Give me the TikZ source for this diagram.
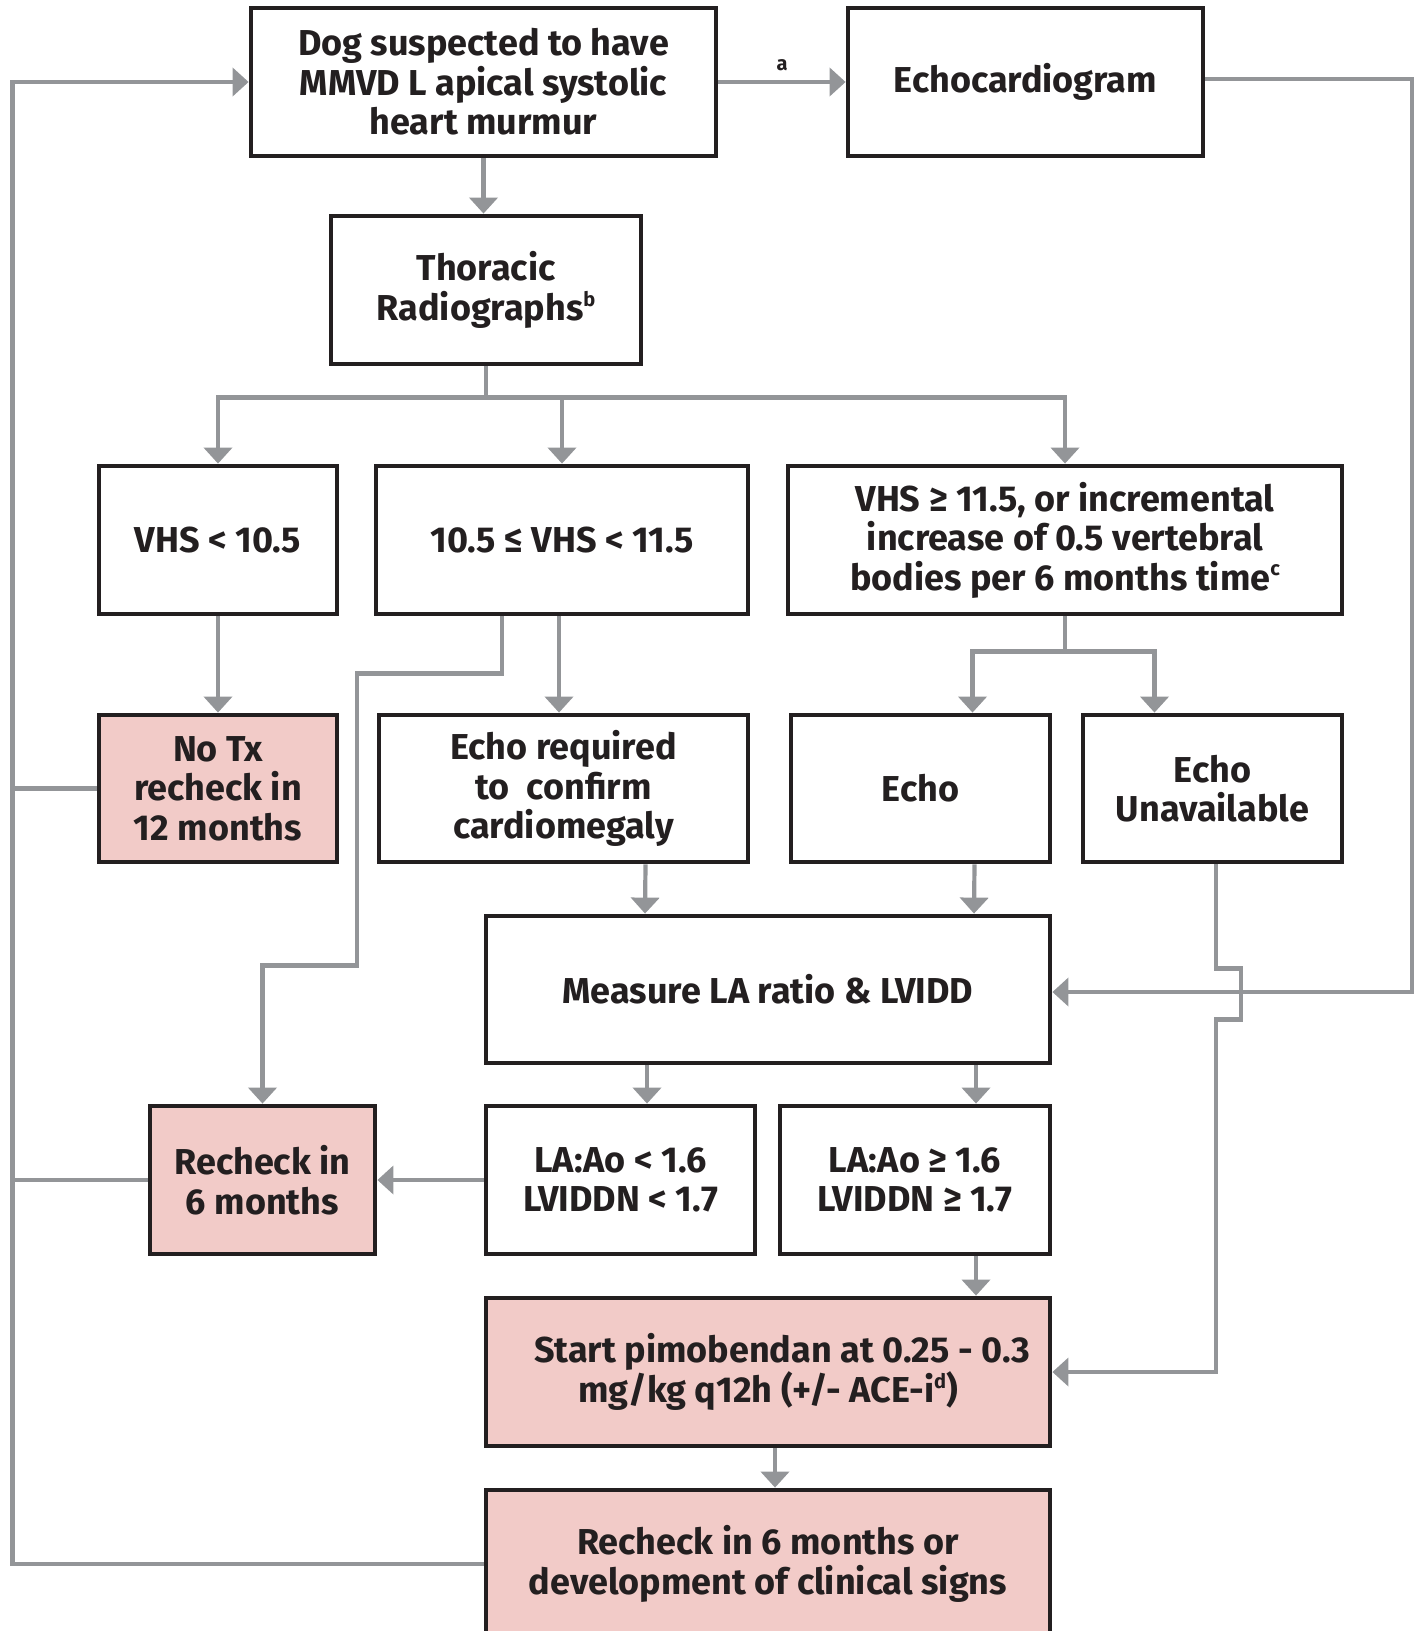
\documentclass[tikz,border=0pt]{standalone}
\usepackage{fontspec}
\setmainfont{Fira Sans}
\usetikzlibrary{arrows.meta,calc}
\definecolor{boxline}{HTML}{231F20}
\definecolor{arrgray}{HTML}{939598}
\definecolor{pinkfill}{HTML}{F2CBC8}
\newcommand{\supnote}[1]{\raisebox{0.75ex}{\fontsize{10pt}{10pt}\selectfont #1}}
\begin{document}
\begin{tikzpicture}[x=0.5pt,y=-0.5pt, line join=miter,
	font=\fontsize{18pt}{19.8pt}\selectfont\bfseries,
	box/.style={draw=boxline, line width=2.4pt, fill=white, align=center, inner sep=0pt, text=boxline},
	pinkbox/.style={box, fill=pinkfill},
	line/.style={draw=arrgray, line width=2.1pt},
	arr/.style={line, -{Triangle[width=14pt,length=8pt]}}]
	\useasboundingbox (0,0) rectangle (1420,1631);
	% boxes
	\node[box, minimum width=232.5pt, minimum height=74pt] (dog) at (483.5,82) {Dog suspected to have\\MMVD L apical systolic\\heart murmur};
	\node[box, minimum width=177.5pt, minimum height=74pt] (echocard) at (1025.5,82) {Echocardiogram};
	\node[box, minimum width=155pt, minimum height=74pt] (thor) at (486,290) {Thoracic\\Radiographs\supnote{b}};
	\node[box, minimum width=119pt, minimum height=74pt] (vhsa) at (218,540) {VHS < 10.5};
	\node[box, minimum width=186pt, minimum height=74pt] (vhsb) at (562,540) {10.5 ≤ VHS < 11.5};
	\node[box, minimum width=277pt, minimum height=74pt] (vhsc) at (1065,540) {VHS ≥ 11.5, or incremental\\increase of 0.5 vertebral\\bodies per 6 months time\supnote{c}};
	\node[pinkbox, minimum width=119pt, minimum height=73.5pt] (notx) at (218,788.5) {No Tx\\recheck in\\12 months};
	\node[box, minimum width=184.5pt, minimum height=73.5pt] (echoreq) at (563.5,788.5) {Echo required\\to\ \ confirm\\cardiomegaly};
	\node[box, minimum width=129.5pt, minimum height=73.5pt] (echo) at (920.5,788.5) {Echo};
	\node[box, minimum width=129.5pt, minimum height=73.5pt] (unavail) at (1212.5,788.5) {Echo\\Unavailable};
	\node[box, minimum width=282pt, minimum height=73.5pt] (measure) at (768,989.5) {Measure LA ratio \& LVIDD};
	\node[pinkbox, minimum width=112.5pt, minimum height=74pt] (recheck) at (262.5,1180) {Recheck in\\6 months};
	\node[box, minimum width=134.5pt, minimum height=74pt] (laaoa) at (620.5,1180) {LA:Ao < 1.6\\LVIDDN < 1.7};
	\node[box, minimum width=135pt, minimum height=74pt] (laaob) at (915,1180) {LA:Ao ≥ 1.6\\LVIDDN ≥ 1.7};
	\node[pinkbox, minimum width=282pt, minimum height=74pt] (pimo) at (768,1372) {\hspace*{14pt}Start pimobendan at 0.25 - 0.3\\mg/kg q12h (+/- ACE-i\supnote{d})};
	\node[pinkbox, minimum width=282pt, minimum height=74pt] (final) at (768,1564) {Recheck in 6 months or\\development of clinical signs};
	% connectors
	\draw[arr] (dog.east) -- (echocard.west) node[midway, above=1pt, font=\fontsize{10pt}{12pt}\selectfont\bfseries, text=boxline] {a};
	\draw[arr] (dog.south) -- (dog.south |- thor.north);
	\draw[line] (thor.south) -- ++(0,31) coordinate (sp);
	\draw[arr] (sp) -| (vhsa.north);
	\draw[arr] (sp) -| (vhsc.north);
	\draw[arr] (sp -| vhsb.north) -- (vhsb.north);
	\draw[arr] (vhsa.south) -- (notx.north);
	\coordinate (vb) at ($(vhsb.south)+(-3,0)$);
	\draw[arr] (vb) -- (vb |- echoreq.north);
	\draw[arr] ($(vhsb.south)+(-60,0)$) -- ++(0,57) -- ++(-145,0) -- ++(0,292) -| (recheck.north);
	\draw[line] (vhsc.south) -- ++(0,35) coordinate (sq);
	\draw[arr] (sq) -| ($(echo.north)+(52,0)$);
	\draw[arr] (sq) -| ($(unavail.north)+(-58,0)$);
	\draw[arr] ($(echoreq.south)+(82,0)$) -- ($(measure.north)+(-123,0)$);
	\draw[arr] ($(echo.south)+(54,0)$) -- ($(measure.north)+(206,0)$);
	\draw[arr] ($(measure.south)+(-121,0)$) -- ($(laaoa.north)+(26.5,0)$);
	\draw[arr] ($(measure.south)+(208,0)$) -- ($(laaob.north)+(61,0)$);
	\draw[arr] ($(laaob.south)+(61,0)$) -- ($(pimo.north)+(208,0)$);
	\draw[arr] ($(pimo.south)+(7,0)$) -- ($(final.north)+(7,0)$);
	\draw[arr] (laaoa.west) -- (recheck.east);
	% loop back to the top
	\coordinate (lx) at (12.5,0);
	\coordinate (rx) at (1412,0);
	\draw[arr] (final.west) -- (final.west -| lx) |- (dog.west);
	\draw[line] (notx.west) -- (notx.west -| lx);
	\draw[line] (recheck.west) -- (recheck.west -| lx);
	\draw[arr] ($(echocard.east)+(0,-3)$) -- ($(echocard.east -| rx)+(0,-3)$) |- ($(measure.east)+(0,2.5)$);
	\draw[arr] ($(unavail.south)+(3.5,0)$) -- ++(0,104) -- ++(25,0) -- ++(0,51) -- ++(-25,0) |- (pimo.east);
\end{tikzpicture}
\end{document}
